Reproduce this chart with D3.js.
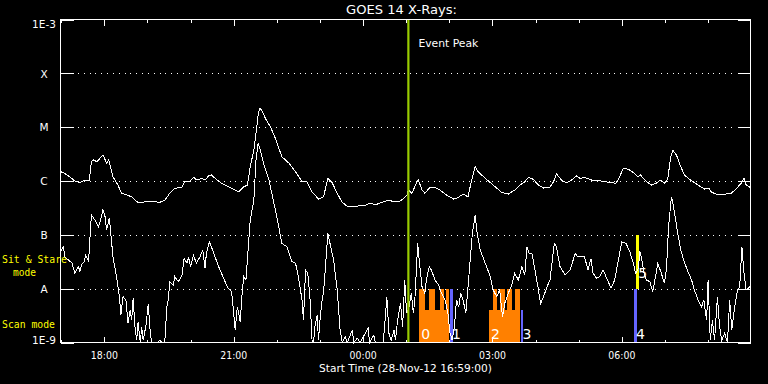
<!DOCTYPE html>
<html><head><meta charset="utf-8">
<script src="https://cdn.jsdelivr.net/npm/d3@7"></script>
<style>html,body{margin:0;padding:0;background:#000;} svg{display:block;}</style>
</head><body>
<svg id="c" width="768" height="384"></svg>
<script>
// ---------- DATA ----------
const titleText = "GOES 14 X-Rays:";
const startLabel = "Start Time (28-Nov-12 16:59:00)";
// minutes after start time, flux (W/m^2)
const longChannel = [[0,1.49e-6],[4,1.43e-6],[13,1.19e-6],[20,1.0e-6],[27,9.3e-7],[34,1.04e-6],[40,1.04e-6],[43,2.3e-6],[46,2.45e-6],[51,2.28e-6],
[55,2.65e-6],[59,3.04e-6],[62,2.5e-6],[64,2.13e-6],[67,2.5e-6],[69,1.98e-6],[73,1.2e-6],[80,8.4e-7],[85,5.9e-7],[92,5.5e-7],
[99,5.1e-7],[104,4.4e-7],[108,4.0e-7],[120,4.1e-7],[129,4.2e-7],[138,4.0e-7],[145,4.4e-7],[152,5.9e-7],[159,7.3e-7],[169,7.7e-7],
[173,1.0e-6],[180,9.7e-7],[185,1.17e-6],[190,1.04e-6],[196,1.12e-6],[201,1.04e-6],[206,1.24e-6],[210,1.29e-6],[217,1.07e-6],[224,9.1e-7],
[231,8.1e-7],[240,7.1e-7],[248,6.3e-7],[255,7.8e-7],[260,8.4e-7],[264,1.84e-6],[269,3.77e-6],[272,7.7e-6],[275,1.68e-5],[277,2.24e-5],
[280,2.08e-5],[285,1.46e-5],[292,1.02e-5],[299,6.2e-6],[308,2.82e-6],[318,2.13e-6],[327,1.49e-6],[336,9.7e-7],[343,9.7e-7],[350,6.3e-7],
[359,4.6e-7],[366,5.1e-7],[372,1.12e-6],[378,9.3e-7],[385,5.9e-7],[392,4.0e-7],[399,3.4e-7],[410,3.4e-7],[424,3.5e-7],[431,3.9e-7],
[438,3.6e-7],[447,4.0e-7],[457,4.4e-7],[464,4.1e-7],[471,4.1e-7],[478,4.8e-7],[482,5.5e-7],[484,6.8e-7],[489,5.9e-7],[496,9.7e-7],
[498,1.04e-6],[503,6.8e-7],[507,5.9e-7],[514,7.6e-7],[521,7.6e-7],[528,6.8e-7],[537,5.5e-7],[547,4.6e-7],[553,4.9e-7],[560,5.7e-7],
[567,5.1e-7],[572,1.04e-6],[577,1.84e-6],[581,1.49e-6],[591,1.12e-6],[602,8.4e-7],[614,6.1e-7],[623,5.7e-7],[632,6.8e-7],[639,8.4e-7],
[646,9.7e-7],[651,1.17e-6],[658,1.07e-6],[665,8.4e-7],[672,7.4e-7],[681,7.7e-7],[686,9.7e-7],[690,1.35e-6],[697,1.04e-6],[704,9.3e-7],
[711,1.04e-6],[718,1.24e-6],[723,1.12e-6],[729,1.17e-6],[739,1.04e-6],[752,1.0e-6],[766,9.3e-7],[773,9.1e-7],[778,1.2e-6],[783,1.73e-6],
[790,1.65e-6],[797,1.43e-6],[803,1.2e-6],[807,1.29e-6],[813,1.04e-6],[822,8.4e-7],[829,9.1e-7],[834,1.04e-6],[841,9.1e-7],[845,1.12e-6],
[849,2.82e-6],[852,3.7e-6],[857,3.04e-6],[862,1.98e-6],[868,1.29e-6],[878,1.01e-6],[887,8.4e-7],[896,7.1e-7],[902,7.4e-7],[905,6.3e-7],
[912,5.7e-7],[924,5.7e-7],[933,5.9e-7],[940,7.1e-7],[947,9.1e-7],[951,1.12e-6],[954,8.4e-7],[959,7.7e-7]];

const shortChannel = [[0,4.9e-8],[4,6.0e-8],[6,3.9e-8],[11,3.4e-8],[16,3.0e-8],[20,1.93e-8],[25,2.56e-8],[27,2.07e-8],[29,2.75e-8],[33,3.2e-8],
[35,4.2e-8],[39,3.2e-8],[43,2.33e-7],[48,1.88e-7],[53,1.42e-7],[55,1.75e-7],[59,2.9e-7],[62,2.17e-7],[64,1.23e-7],[68,2.05e-7],
[70,1.06e-7],[73,3.9e-8],[78,1.67e-8],[82,7.1e-9],[84,3.2e-9],[87,7.1e-9],[91,6.2e-9],[94,2.3e-9],[97,4.0e-9],[99,2.6e-9],
[101,6.6e-9],[104,1.7e-9],[106,1.1e-9],[108,2.4e-9],[111,9e-10],[113,1.96e-9],[115,1.1e-9],[119,2.1e-9],[122,5.2e-9],[125,1.48e-9],
[127,9e-10],[136,9e-10],[138,1.1e-9],[141,9e-10],[145,9e-10],[148,4.6e-9],[150,6.2e-9],[152,1.35e-8],[157,1.17e-8],[159,1.67e-8],
[164,1.35e-8],[169,1.79e-8],[172,3.7e-8],[176,2.96e-8],[178,3.9e-8],[181,2.56e-8],[185,4.2e-8],[189,2.96e-8],[194,3.9e-8],[198,5.2e-8],
[201,2.39e-8],[203,4.5e-8],[207,7.4e-8],[210,6.0e-8],[215,3.9e-8],[220,2.56e-8],[224,1.93e-8],[229,1.35e-8],[233,1.02e-8],[238,8.8e-9],
[241,3.5e-9],[243,1.7e-9],[246,4.6e-9],[248,3.5e-9],[250,2.4e-9],[253,9.4e-9],[255,1.67e-8],[258,1.45e-8],[261,5.2e-8],[264,1.88e-7],
[269,4.4e-7],[272,2.45e-6],[275,5.0e-6],[278,3.77e-6],[283,1.98e-6],[290,1.04e-6],[294,5.9e-7],[301,2.17e-7],[308,6.9e-8],[315,6.0e-8],
[322,3.2e-8],[327,2.96e-8],[331,1.67e-8],[336,6.2e-9],[338,2.6e-9],[341,2.22e-8],[344,1.93e-8],[347,7.1e-9],[350,1.1e-9],[352,9e-10],
[354,1.96e-9],[357,3.2e-9],[359,1.1e-9],[361,2.6e-9],[364,6.2e-9],[366,8.8e-9],[369,2.96e-8],[372,1.06e-7],[375,6.9e-8],[380,3.4e-8],
[385,9.4e-9],[389,1.7e-9],[392,9e-10],[396,1.28e-9],[399,9e-10],[406,1.7e-9],[408,9e-10],[413,1.2e-9],[417,9e-10],[428,1.85e-9],
[430,9e-10],[436,1.37e-9],[438,9e-10],[449,9e-10],[452,3.0e-9],[454,7.1e-9],[457,1.48e-9],[460,1.1e-9],[464,1.7e-9],[466,1.1e-9],
[469,2.6e-9],[473,5.3e-9],[476,1.96e-9],[479,1.45e-8],[481,4.6e-9],[482,3.5e-9],[485,4.6e-9],[488,8.2e-9],[491,3.5e-9],[493,6.2e-9],
[497,6.9e-8],[500,2.56e-8],[503,1.09e-8],[507,8.2e-9],[509,1.45e-8],[513,2.56e-8],[516,2.22e-8],[521,1.45e-8],[526,1.17e-8],[530,8.2e-9],
[535,6.2e-9],[539,3.5e-9],[542,1.48e-9],[545,1.1e-9],[548,1.96e-9],[551,6.2e-9],[554,4.6e-9],[557,8.2e-9],[560,6.2e-9],[564,3.5e-9],
[567,1.09e-8],[570,3.4e-8],[573,1.06e-7],[577,2.33e-7],[579,1.23e-7],[584,5.2e-8],[591,2.96e-8],[598,1.67e-8],[602,9.4e-9],[607,7.1e-9],
[611,9.4e-9],[615,3.0e-9],[618,5.3e-9],[623,8.2e-9],[628,1.17e-8],[632,1.93e-8],[637,1.45e-8],[642,2.56e-8],[646,1.79e-8],[649,6.0e-8],
[652,4.5e-8],[656,4.5e-8],[661,1.93e-8],[665,9.4e-9],[668,5.3e-9],[672,7.1e-9],[677,1.09e-8],[681,1.45e-8],[687,6.9e-8],[690,6.0e-8],
[695,2.56e-8],[702,1.79e-8],[709,2.22e-8],[716,4.5e-8],[720,3.9e-8],[725,3.9e-8],[729,3.9e-8],[734,2.22e-8],[738,3.6e-8],[741,1.93e-8],
[746,1.56e-8],[750,1.67e-8],[755,2.22e-8],[759,1.67e-8],[766,1.02e-8],[771,1.45e-8],[777,3.9e-8],[781,7.4e-8],[787,6.9e-8],[792,4.9e-8],
[797,2.96e-8],[800,1.93e-8],[804,2.39e-8],[806,4.9e-8],[808,3.9e-8],[812,1.93e-8],[815,1.45e-8],[820,1.35e-8],[824,8.8e-9],[827,1.45e-8],
[831,2.96e-8],[836,1.93e-8],[840,1.26e-8],[843,2.22e-8],[846,1.42e-7],[850,5.1e-7],[853,3.3e-7],[858,1.23e-7],[863,5.2e-8],[867,3.4e-8],
[872,2.22e-8],[878,1.45e-8],[882,9.4e-9],[887,6.2e-9],[892,4.6e-9],[895,6.2e-9],[899,2.6e-9],[901,1.45e-8],[904,1.1e-9],[907,2.6e-9],
[910,1.1e-9],[914,7.1e-9],[917,1.96e-9],[920,1.1e-9],[924,1.48e-9],[928,9e-10],[931,6.2e-9],[934,1.7e-9],[938,4.6e-9],[942,9.4e-9],
[945,1.09e-8],[948,6.0e-8],[951,1.93e-8],[954,9.4e-9],[959,1.09e-8],[960,8.8e-9]];

const yTickValues = [1e-3,1e-4,1e-5,1e-6,1e-7,1e-8,1e-9];
const yTickLabels = ["1E-3","X","M","C","B","A","1E-9"];
const gridValues = [1e-4,1e-5,1e-6,1e-7,1e-8];
const durationMin = 960;
const eventPeakMin = 484;
// observations (minutes after start)
const obsLabels = ["0","1","2","3","4","5"];
const obsStart  = [499, 542, 596, 640, 798, 801];
const obsEnd    = [541, 546, 639, 643, 802, 805];
const obsMode   = ["raster","scan","raster","scan","scan","stare"];
const obsTop    = [4e-9, 1e-8, 4e-9, 4e-9, 1e-8, 1e-7];
const obsBottom = [1e-9, 1e-9, 1e-9, 1e-9, 1e-9, 1e-8];
// raster sub-scans rising to A level
const toothStart = [499, 512, 528, 536, 602, 611, 621, 632];
const toothEnd   = [507, 521, 533, 541, 607, 618, 628, 639];
const toothTop = 1e-8;

// ---------- CHART ----------
const svg = d3.select("#c");
svg.append("rect").attr("width",768).attr("height",384).attr("fill","#000");
const FONT = "DejaVu Sans, Verdana, sans-serif";
const MONO = "DejaVu Sans Mono, Liberation Mono, monospace";
const START = Date.UTC(2012,10,28,16,59,0);
const toDate = m => new Date(START + m*60000);
const x = d3.scaleUtc().domain([toDate(0), toDate(durationMin)]).range([60.5, 750.5]);
const y = d3.scaleLog().domain([1e-9,1e-3]).range([342.5,19.5]).clamp(true);
const tx = m => x(toDate(m));
const ry = v => Math.round(y(v)) + 0.5;

const L = x.range()[0], R = x.range()[1], T = y.range()[1], B = y.range()[0];

// dotted grid
svg.append("g").selectAll("line").data(gridValues).join("line")
  .attr("x1", 78).attr("x2", R-14).attr("y1", ry).attr("y2", ry)
  .attr("stroke","#fff").attr("stroke-dasharray","1 4.83").attr("shape-rendering","crispEdges");

// observation overlays
const obsG = svg.append("g");
obsG.selectAll("rect.base").data(obsLabels.map((l,i)=>i).filter(i=>obsMode[i]==="raster")).join("rect")
  .attr("x", i=>tx(obsStart[i])).attr("width", i=>tx(obsEnd[i])-tx(obsStart[i]))
  .attr("y", i=>y(obsTop[i])).attr("height", i=>y(obsBottom[i])-y(obsTop[i]))
  .attr("fill","#ff8000").attr("shape-rendering","crispEdges");
obsG.selectAll("rect.tooth").data(toothStart.map((s,i)=>i)).join("rect")
  .attr("x", i=>tx(toothStart[i])).attr("width", i=>tx(toothEnd[i])-tx(toothStart[i]))
  .attr("y", y(toothTop)).attr("height", y(1e-9)-y(toothTop))
  .attr("fill","#ff8000").attr("shape-rendering","crispEdges");
obsG.selectAll("rect.mark").data(obsLabels.map((l,i)=>i).filter(i=>obsMode[i]!=="raster")).join("rect")
  .attr("x", i=>tx(obsStart[i])).attr("width", i=>tx(obsEnd[i])-tx(obsStart[i]))
  .attr("y", i=>y(obsTop[i])).attr("height", i=>y(obsBottom[i])-y(obsTop[i]))
  .attr("fill", i=>obsMode[i]==="stare" ? "#ffff00" : "#6464ff").attr("shape-rendering","crispEdges");

// curves
const line = d3.line().x(d=>tx(d[0])).y(d=>y(d[1]));
[longChannel, shortChannel].forEach(s=>{
  svg.append("path").datum(s).attr("d", line).attr("fill","none")
    .attr("stroke","#fff").attr("stroke-width",1).attr("shape-rendering","crispEdges");
});

// observation labels
svg.append("g").selectAll("text").data(obsLabels.map((l,i)=>i)).join("text")
  .attr("x", i=>tx(obsStart[i])+2)
  .attr("y", i=>obsMode[i]==="stare" ? 278 : 339)
  .attr("fill","#fff").attr("font-family",FONT).attr("font-size",14)
  .text(i=>obsLabels[i]);

// event peak
svg.append("line").attr("x1", tx(eventPeakMin)).attr("x2", tx(eventPeakMin))
  .attr("y1", T).attr("y2", B).attr("stroke","#99cc00").attr("stroke-width",2.2);
svg.append("text").attr("x", tx(eventPeakMin)+10).attr("y", 46.5)
  .attr("fill","#fff").attr("font-family",FONT).attr("font-size",11)
  .attr("textLength",60).attr("lengthAdjust","spacingAndGlyphs").text("Event Peak");

// frame
svg.append("rect").attr("x",L).attr("y",T).attr("width",R-L).attr("height",B-T)
  .attr("fill","none").attr("stroke","#fff").attr("shape-rendering","crispEdges");

// y ticks & labels
const yt = svg.append("g");
yTickValues.forEach((v,i)=>{
  yt.append("line").attr("x1",L).attr("x2",L+13).attr("y1",ry(v)).attr("y2",ry(v))
    .attr("stroke","#fff").attr("shape-rendering","crispEdges");
  yt.append("line").attr("x1",R-13).attr("x2",R).attr("y1",ry(v)).attr("y2",ry(v))
    .attr("stroke","#fff").attr("shape-rendering","crispEdges");
  let ty = y(v) + 4.3;
  if (i===0) ty = y(v) + 8;
  if (i===yTickValues.length-1) ty = y(v) + 1;
  yt.append("text").attr("x",44).attr("y",ty).attr("text-anchor","middle")
    .attr("fill","#fff").attr("font-family",FONT).attr("font-size",10.5).text(yTickLabels[i]);
});

// time ticks
const hours = d3.utcHour.range(toDate(0), toDate(durationMin));
const fmt = d3.utcFormat("%H:%M");
const xt = svg.append("g");
hours.forEach(h=>{
  const major = h.getUTCHours()%3===0;
  const len = major ? 6 : 3;
  const xx = Math.round(x(h)) + 0.5;
  xt.append("line").attr("x1",xx).attr("x2",xx).attr("y1",B).attr("y2",B-len).attr("stroke","#fff").attr("shape-rendering","crispEdges");
  xt.append("line").attr("x1",xx).attr("x2",xx).attr("y1",T).attr("y2",T+len).attr("stroke","#fff").attr("shape-rendering","crispEdges");
  if (major) {
    xt.append("text").attr("x", x(h)).attr("y", 359).attr("text-anchor","middle")
      .attr("fill","#fff").attr("font-family",FONT).attr("font-size",11)
      .attr("textLength",27).attr("lengthAdjust","spacingAndGlyphs").text(fmt(h));
  }
});
svg.append("text").attr("x", (L+R)/2).attr("y", 372.3).attr("text-anchor","middle")
  .attr("fill","#fff").attr("font-family",FONT).attr("font-size",11)
  .attr("textLength",173).attr("lengthAdjust","spacingAndGlyphs").text(startLabel);

// title
svg.append("text").attr("x", 346).attr("y", 14)
  .attr("fill","#fff").attr("font-family",FONT).attr("font-size",12)
  .attr("textLength",111).attr("lengthAdjust","spacingAndGlyphs").text(titleText);

// mode labels
const modeG = svg.append("g").attr("fill","#ffff00").attr("font-family",MONO).attr("font-size",10.5);
modeG.append("text").attr("x",2).attr("y",262.5).attr("textLength",65).attr("lengthAdjust","spacingAndGlyphs").text("Sit & Stare");
modeG.append("text").attr("x",13).attr("y",275.5).attr("textLength",23).attr("lengthAdjust","spacingAndGlyphs").text("mode");
modeG.append("text").attr("x",2).attr("y",328.3).attr("textLength",53).attr("lengthAdjust","spacingAndGlyphs").text("Scan mode");
</script>
</body></html>
